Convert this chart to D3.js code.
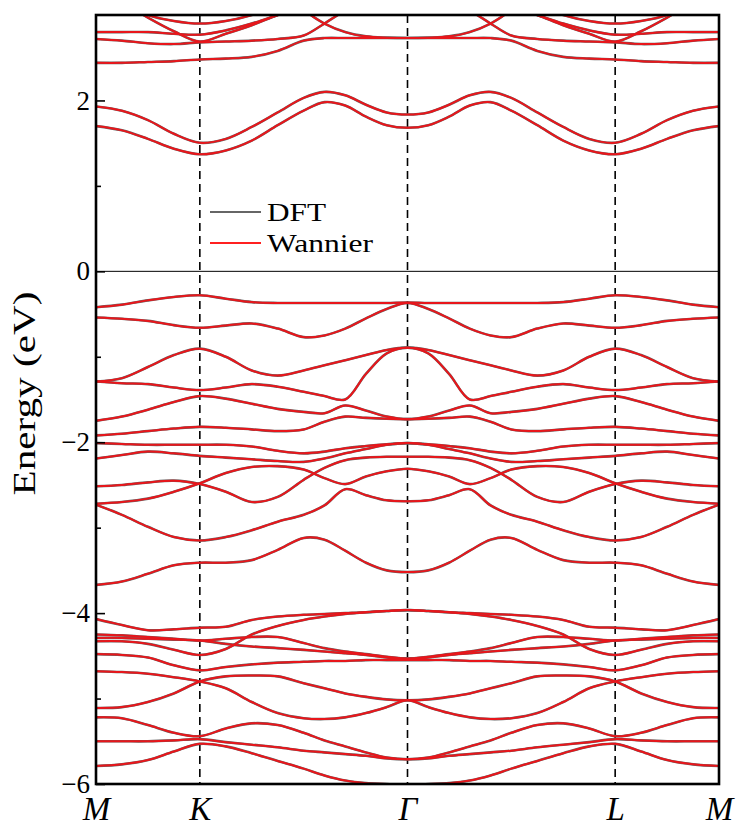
<!DOCTYPE html>
<html><head><meta charset="utf-8">
<script src="https://cdn.jsdelivr.net/npm/d3@7"></script>
<style>body{margin:0;background:#fff}</style>
</head><body>
<svg id="c" width="744" height="829"></svg>
<script>
// k-path coordinate (M=0, K=1, Γ=3, L=5, M=6)
const kPath = [0,0.25,0.5,0.75,1,1.25,1.5,1.75,2,2.2,2.4,2.6,2.8,3,3.2,3.4,3.6,3.8,4,4.25,4.5,4.75,5,5.25,5.5,5.75,6];
const kTickPos = [0,1,3,5,6];
const kTickLabels = ["M","K","Γ","L","M"];
const yMajor = [-6,-4,-2,0,2];
const yMinor = [-5,-3,-1,1];
const legendLabels = ["DFT","Wannier"];

// energies (eV) of each band along kPath
const bT6 = [3.30,3.30,3.30,3.30,3.30,3.30,3.30,3.20,3.05,2.90,2.80,2.75,2.735,2.73,2.735,2.75,2.80,2.90,3.05,3.20,3.30,3.30,3.30,3.30,3.30,3.30,3.30];
const bT5 = [3.30,3.15,2.97,2.81,2.69,2.78,2.88,3.00,3.10,3.20,3.30,3.30,3.30,3.30,3.30,3.30,3.30,3.20,3.10,3.00,2.88,2.78,2.69,2.81,2.97,3.15,3.30];
const bT4 = [3.30,3.15,3.00,2.93,2.90,2.93,3.00,3.12,3.30,3.30,3.30,3.30,3.30,3.30,3.30,3.30,3.30,3.30,3.30,3.12,3.00,2.93,2.90,2.93,3.00,3.15,3.30];
const bT3 = [2.72,2.70,2.67,2.66,2.68,2.69,2.70,2.72,2.76,2.90,3.05,3.15,3.20,3.20,3.20,3.15,3.05,2.90,2.76,2.72,2.70,2.69,2.68,2.66,2.67,2.70,2.72];
const bT2 = [2.80,2.80,2.80,2.78,2.77,2.82,2.90,3.00,3.10,3.15,3.20,3.20,3.20,3.20,3.20,3.20,3.20,3.15,3.10,3.00,2.90,2.82,2.77,2.78,2.80,2.80,2.80];
const bT1 = [2.44,2.44,2.45,2.46,2.48,2.49,2.51,2.58,2.70,2.73,2.73,2.73,2.73,2.73,2.73,2.73,2.73,2.73,2.70,2.58,2.51,2.49,2.48,2.46,2.45,2.44,2.44];
const bC2 = [1.93,1.88,1.77,1.61,1.505,1.55,1.69,1.86,2.03,2.10,2.06,1.95,1.86,1.836,1.86,1.95,2.06,2.10,2.03,1.86,1.69,1.55,1.505,1.61,1.77,1.88,1.93];
const bC1 = [1.70,1.65,1.55,1.435,1.37,1.415,1.53,1.71,1.88,1.98,1.94,1.81,1.71,1.68,1.71,1.81,1.94,1.98,1.88,1.71,1.53,1.415,1.37,1.435,1.55,1.65,1.70];
const bV1 = [-0.42,-0.39,-0.34,-0.30,-0.28,-0.32,-0.36,-0.37,-0.37,-0.37,-0.37,-0.37,-0.37,-0.365,-0.37,-0.37,-0.37,-0.37,-0.37,-0.37,-0.36,-0.32,-0.28,-0.30,-0.34,-0.39,-0.42];
const bV2 = [-0.54,-0.555,-0.58,-0.63,-0.66,-0.635,-0.61,-0.67,-0.77,-0.75,-0.67,-0.55,-0.44,-0.37,-0.44,-0.55,-0.67,-0.75,-0.77,-0.67,-0.61,-0.635,-0.66,-0.63,-0.58,-0.555,-0.54];
const bV3 = [-1.29,-1.25,-1.12,-0.98,-0.905,-1.00,-1.16,-1.22,-1.16,-1.10,-1.04,-0.98,-0.92,-0.893,-0.92,-0.98,-1.04,-1.10,-1.16,-1.22,-1.16,-1.00,-0.905,-0.98,-1.12,-1.25,-1.29];
const bV4 = [-1.29,-1.31,-1.32,-1.36,-1.39,-1.36,-1.32,-1.35,-1.41,-1.46,-1.50,-1.20,-0.96,-0.893,-0.96,-1.20,-1.50,-1.46,-1.41,-1.35,-1.32,-1.36,-1.39,-1.36,-1.32,-1.31,-1.29];
const bV5 = [-1.75,-1.70,-1.62,-1.53,-1.46,-1.49,-1.55,-1.61,-1.645,-1.66,-1.57,-1.63,-1.70,-1.73,-1.70,-1.63,-1.57,-1.66,-1.645,-1.61,-1.55,-1.49,-1.46,-1.53,-1.62,-1.70,-1.75];
const bV6 = [-1.92,-1.90,-1.87,-1.84,-1.82,-1.83,-1.85,-1.87,-1.85,-1.76,-1.70,-1.715,-1.725,-1.73,-1.725,-1.715,-1.70,-1.76,-1.85,-1.87,-1.85,-1.83,-1.82,-1.84,-1.87,-1.90,-1.92];
const bA = [-2.01,-2.02,-2.03,-2.03,-2.03,-2.03,-2.05,-2.10,-2.13,-2.11,-2.07,-2.045,-2.025,-2.01,-2.025,-2.045,-2.07,-2.11,-2.13,-2.10,-2.05,-2.03,-2.03,-2.03,-2.03,-2.02,-2.01];
const bB = [-2.19,-2.15,-2.11,-2.13,-2.16,-2.18,-2.20,-2.22,-2.23,-2.19,-2.13,-2.08,-2.03,-2.01,-2.03,-2.08,-2.13,-2.19,-2.23,-2.22,-2.20,-2.18,-2.16,-2.13,-2.11,-2.15,-2.19];
const bG1 = [-2.515,-2.50,-2.47,-2.45,-2.49,-2.58,-2.70,-2.64,-2.44,-2.30,-2.21,-2.18,-2.17,-2.17,-2.17,-2.18,-2.21,-2.30,-2.44,-2.64,-2.70,-2.58,-2.49,-2.45,-2.47,-2.50,-2.515];
const bG2 = [-2.72,-2.70,-2.66,-2.58,-2.48,-2.36,-2.29,-2.28,-2.32,-2.42,-2.49,-2.40,-2.34,-2.31,-2.34,-2.40,-2.49,-2.42,-2.32,-2.28,-2.29,-2.36,-2.48,-2.58,-2.66,-2.70,-2.72];
const bG3 = [-2.73,-2.85,-2.99,-3.11,-3.15,-3.11,-3.03,-2.93,-2.85,-2.74,-2.55,-2.62,-2.68,-2.69,-2.68,-2.62,-2.55,-2.74,-2.85,-2.93,-3.03,-3.11,-3.15,-3.11,-2.99,-2.85,-2.73];
const bG4 = [-3.67,-3.63,-3.54,-3.44,-3.41,-3.41,-3.38,-3.26,-3.12,-3.14,-3.27,-3.41,-3.50,-3.52,-3.50,-3.41,-3.27,-3.14,-3.12,-3.26,-3.38,-3.41,-3.41,-3.44,-3.54,-3.63,-3.67];
const bH1 = [-4.07,-4.14,-4.20,-4.19,-4.17,-4.16,-4.08,-4.04,-4.02,-4.01,-4.00,-3.99,-3.975,-3.965,-3.975,-3.99,-4.00,-4.01,-4.02,-4.04,-4.08,-4.16,-4.17,-4.19,-4.20,-4.14,-4.07];
const bH2 = [-4.33,-4.33,-4.36,-4.43,-4.49,-4.42,-4.25,-4.15,-4.08,-4.04,-4.01,-3.99,-3.975,-3.965,-3.975,-3.99,-4.01,-4.04,-4.08,-4.15,-4.25,-4.42,-4.49,-4.43,-4.36,-4.33,-4.33];
const bH3 = [-4.25,-4.26,-4.28,-4.30,-4.32,-4.30,-4.28,-4.28,-4.35,-4.41,-4.45,-4.48,-4.51,-4.53,-4.51,-4.48,-4.45,-4.41,-4.35,-4.28,-4.28,-4.30,-4.32,-4.30,-4.28,-4.26,-4.25];
const bH4 = [-4.29,-4.29,-4.30,-4.31,-4.32,-4.36,-4.39,-4.41,-4.43,-4.45,-4.47,-4.49,-4.52,-4.54,-4.52,-4.49,-4.47,-4.45,-4.43,-4.41,-4.39,-4.36,-4.32,-4.31,-4.30,-4.29,-4.29];
const bH5 = [-4.48,-4.49,-4.52,-4.61,-4.67,-4.63,-4.60,-4.58,-4.57,-4.56,-4.56,-4.55,-4.55,-4.55,-4.55,-4.55,-4.56,-4.56,-4.57,-4.58,-4.60,-4.63,-4.67,-4.61,-4.52,-4.49,-4.48];
const bH6 = [-5.11,-5.10,-5.04,-4.94,-4.80,-4.74,-4.73,-4.74,-4.82,-4.88,-4.94,-4.98,-5.01,-5.02,-5.01,-4.98,-4.94,-4.88,-4.82,-4.74,-4.73,-4.74,-4.80,-4.94,-5.04,-5.10,-5.11];
const bH7 = [-4.68,-4.69,-4.71,-4.75,-4.80,-4.88,-5.04,-5.17,-5.23,-5.24,-5.22,-5.17,-5.10,-5.02,-5.10,-5.17,-5.22,-5.24,-5.23,-5.17,-5.04,-4.88,-4.80,-4.75,-4.71,-4.69,-4.68];
const bH8 = [-5.22,-5.23,-5.31,-5.40,-5.44,-5.35,-5.29,-5.31,-5.40,-5.49,-5.56,-5.63,-5.69,-5.71,-5.69,-5.63,-5.56,-5.49,-5.40,-5.31,-5.29,-5.35,-5.44,-5.40,-5.31,-5.23,-5.22];
const bH9 = [-5.50,-5.50,-5.50,-5.49,-5.475,-5.51,-5.54,-5.57,-5.61,-5.63,-5.65,-5.67,-5.70,-5.71,-5.70,-5.67,-5.65,-5.63,-5.61,-5.57,-5.54,-5.51,-5.475,-5.49,-5.50,-5.50,-5.50];
const bH10 = [-5.79,-5.77,-5.72,-5.62,-5.53,-5.56,-5.64,-5.73,-5.82,-5.90,-5.96,-5.99,-6.00,-6.01,-6.00,-5.99,-5.96,-5.90,-5.82,-5.73,-5.64,-5.56,-5.53,-5.62,-5.72,-5.77,-5.79];

const bands = [bT6,bT5,bT4,bT3,bT2,bT1,bC2,bC1,bV1,bV2,bV3,bV4,bV5,bV6,bA,bB,bG1,bG2,bG3,bG4,bH1,bH2,bH3,bH4,bH5,bH6,bH7,bH8,bH9,bH10];

const W = 744, H = 829;
const m = {left:96, right:25, top:15, bottom:45};
const x = d3.scaleLinear().domain([0,6]).range([m.left, W - m.right]);
const y = d3.scaleLinear().domain([-6,3]).range([H - m.bottom, m.top]);
const svg = d3.select("#c");
const serif = "'Liberation Serif','DejaVu Serif','Times New Roman',serif";

svg.append("clipPath").attr("id","clip").append("rect")
  .attr("x", x(0)).attr("y", y(3)).attr("width", x(6)-x(0)).attr("height", y(-6)-y(3));

// zero line
svg.append("line").attr("x1",x(0)).attr("x2",x(6)).attr("y1",y(0)).attr("y2",y(0))
  .attr("stroke","#000").attr("stroke-width",1);

// high-symmetry dashed lines
svg.append("g").selectAll("line").data(kTickPos.slice(1,4)).join("line")
  .attr("x1",d=>x(d)).attr("x2",d=>x(d)).attr("y1",y(3)).attr("y2",y(-6))
  .attr("stroke","#000").attr("stroke-width",1.6).attr("stroke-dasharray","8,5");

const line = d3.line().x((d,i)=>x(kPath[i])).y(d=>y(d)).curve(d3.curveCatmullRom.alpha(0.5));
const g = svg.append("g").attr("clip-path","url(#clip)");
g.selectAll("path.dft").data(bands).join("path").attr("class","dft")
  .attr("d",line).attr("fill","none").attr("stroke","#666").attr("stroke-width",2.6);
g.selectAll("path.wan").data(bands).join("path").attr("class","wan")
  .attr("d",line).attr("fill","none").attr("stroke","#e8161b").attr("stroke-width",2.0);

// y axis
const ya = svg.append("g").attr("transform",`translate(${x(0)},0)`)
  .call(d3.axisLeft(y).tickValues(yMajor).tickSize(-9).tickPadding(6));
ya.select(".domain").remove();
ya.selectAll("line").attr("stroke-width",1.6);
ya.selectAll("text").attr("font-family",serif).attr("font-size",27).attr("fill","#000");
const ym = svg.append("g").attr("transform",`translate(${x(0)},0)`)
  .call(d3.axisLeft(y).tickValues(yMinor).tickSize(-5).tickFormat(""));
ym.select(".domain").remove();
ym.selectAll("line").attr("stroke-width",1.6);

// x axis labels
const xa = svg.append("g").attr("transform",`translate(0,${y(-6)})`)
  .call(d3.axisBottom(x).tickValues(kTickPos).tickSize(0).tickPadding(13).tickFormat((d,i)=>kTickLabels[i]));
xa.select(".domain").remove();
xa.selectAll("text").attr("font-family",serif).attr("font-style","italic").attr("font-size",33).attr("fill","#000");

// frame
svg.append("rect").attr("x",x(0)).attr("y",y(3)).attr("width",x(6)-x(0)).attr("height",y(-6)-y(3))
  .attr("fill","none").attr("stroke","#000").attr("stroke-width",2.6);

// y label
svg.append("text").attr("transform",`translate(35,${(y(3)+y(-6))/2 - 6}) rotate(-90)`)
  .attr("text-anchor","middle").attr("font-family",serif).attr("font-size",31)
  .attr("textLength",204).attr("lengthAdjust","spacingAndGlyphs").text("Energy (eV)");

// legend
const lg = svg.append("g");
const legColors = ["#666","#ff2020"];
const legLen = [59,106];
lg.selectAll("line").data(legendLabels).join("line")
  .attr("x1",210).attr("x2",261).attr("y1",(d,i)=>212+i*31).attr("y2",(d,i)=>212+i*31)
  .attr("stroke",(d,i)=>legColors[i]).attr("stroke-width",2);
lg.selectAll("text").data(legendLabels).join("text")
  .attr("x",267).attr("y",(d,i)=>221+i*31).attr("font-family",serif).attr("font-size",26)
  .attr("textLength",(d,i)=>legLen[i]).attr("lengthAdjust","spacingAndGlyphs").text(d=>d);
</script>
</body></html>
